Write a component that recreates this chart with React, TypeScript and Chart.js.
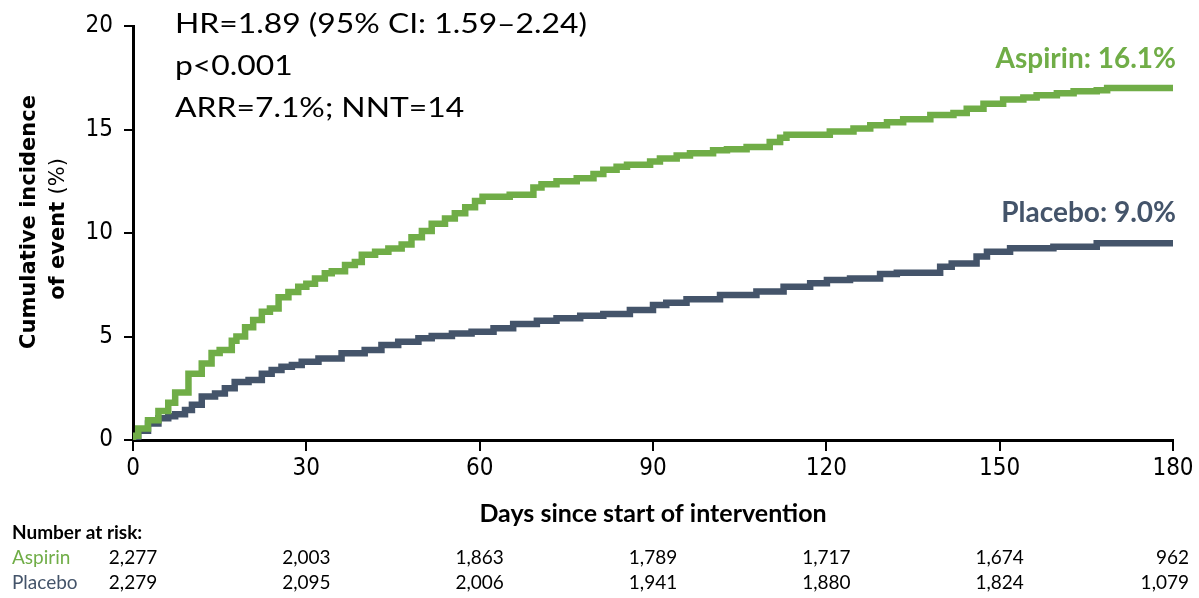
import { useEffect, useRef } from 'react';
import { Chart, registerables } from 'chart.js';

Chart.register(...registerables);

// Kaplan–Meier style cumulative incidence (%), step points: value reached at the given day
const aspirinDays = [0, 0.9, 2.6, 4.4, 6.1, 7.3, 9.6, 11.9, 13.6, 15.0, 17.1, 17.9, 19.4, 20.8, 22.3, 23.7, 25.2, 26.9, 28.6, 30.0, 31.5, 33.2, 34.4, 36.7, 38.4, 39.6, 41.9, 44.2, 46.5, 48.2, 50.0, 51.7, 54.0, 55.7, 57.5, 59.2, 60.5, 65.2, 69.3, 70.7, 73.3, 76.8, 79.7, 81.4, 83.7, 85.5, 89.5, 91.2, 94.1, 96.4, 100.4, 102.8, 106.2, 110.2, 112.0, 113.1, 120.6, 124.7, 127.6, 130.5, 133.3, 138.0, 142.0, 144.3, 147.2, 150.6, 154.1, 156.4, 159.9, 162.8, 166.8, 168.6, 172.6, 180];
const aspirinPct = [0, 0.2, 0.55, 0.95, 1.4, 1.8, 2.3, 3.2, 3.7, 4.2, 4.35, 4.8, 5.0, 5.45, 5.8, 6.2, 6.35, 6.9, 7.15, 7.4, 7.55, 7.8, 8.05, 8.15, 8.45, 8.6, 8.95, 9.1, 9.25, 9.45, 9.8, 10.1, 10.45, 10.7, 10.95, 11.25, 11.55, 11.75, 11.85, 12.2, 12.35, 12.5, 12.65, 12.85, 13.05, 13.2, 13.3, 13.45, 13.6, 13.75, 13.85, 14.0, 14.05, 14.15, 14.4, 14.6, 14.75, 14.9, 15.05, 15.2, 15.35, 15.5, 15.7, 15.8, 16.0, 16.25, 16.45, 16.55, 16.65, 16.75, 16.85, 16.9, 17.0, 17.0];

const placeboDays = [0, 0.9, 2.6, 4.4, 6.1, 7.3, 9.0, 10.2, 11.9, 14.2, 15.9, 17.6, 20.0, 22.3, 24.0, 25.7, 27.5, 29.2, 32.1, 36.1, 40.1, 43.0, 45.9, 49.4, 51.7, 55.2, 58.6, 62.4, 65.8, 69.9, 73.3, 77.4, 81.4, 86.0, 90.0, 92.3, 95.8, 101.6, 107.9, 112.6, 117.2, 120.1, 124.1, 129.3, 132.2, 139.7, 141.7, 146.0, 147.8, 151.8, 159.3, 166.8, 175.5, 180];
const placeboPct = [0, 0.1, 0.45, 0.8, 1.05, 1.15, 1.25, 1.45, 1.7, 2.1, 2.25, 2.5, 2.8, 2.9, 3.2, 3.38, 3.54, 3.62, 3.78, 3.94, 4.19, 4.35, 4.59, 4.75, 4.91, 5.02, 5.15, 5.23, 5.4, 5.6, 5.76, 5.88, 6.0, 6.09, 6.28, 6.52, 6.63, 6.8, 7.0, 7.17, 7.4, 7.57, 7.73, 7.8, 8.02, 8.08, 8.37, 8.53, 8.86, 9.1, 9.26, 9.34, 9.5, 9.5];

const xTickDays = [0, 30, 60, 90, 120, 150, 180];
const aspirinAtRisk = ['2,277', '2,003', '1,863', '1,789', '1,717', '1,674', '962'];
const placeboAtRisk = ['2,279', '2,095', '2,006', '1,941', '1,880', '1,824', '1,079'];

const statsLines = ['HR=1.89 (95% CI: 1.59–2.24)', 'p<0.001', 'ARR=7.1%; NNT=14'];
const aspirinLabel = 'Aspirin: 16.1%';
const placeboLabel = 'Placebo: 9.0%';

const GREEN = '#70AD47';
const SLATE = '#44546A';
const TEXT_FONT = 'Lato, "Noto Sans", sans-serif';
const YTITLE_FONT = '"DejaVu Sans", Verdana, sans-serif';
const TICK_FONT = '"Liberation Sans Narrow", "DejaVu Sans Condensed", Lato, sans-serif';

const toPoints = (xs: number[], ys: number[]) => xs.map((x, i) => ({ x, y: ys[i] }));

const annotationPlugin = {
  id: 'kmAnnotations',
  afterDraw(chart: any) {
    const { ctx } = chart;
    const xs = chart.scales.x;
    const area = chart.chartArea;
    ctx.save();
    ctx.textBaseline = 'alphabetic';

    // statistics block, top-left inside plot (slightly widened lettering)
    ctx.fillStyle = '#000';
    ctx.font = `26px ${TEXT_FONT}`;
    ctx.textAlign = 'left';
    const statsWidth = ctx.measureText(statsLines[0]).width;
    const stretch = 412 / statsWidth;
    ctx.save();
    ctx.translate(175, 0);
    ctx.scale(stretch, 1);
    statsLines.forEach((line, i) => {
      ctx.fillText(line, 0, 33 + i * 42);
    });
    ctx.restore();

    // series end labels
    ctx.textAlign = 'right';
    ctx.font = `bold 28px ${TEXT_FONT}`;
    ctx.fillStyle = GREEN;
    ctx.fillText(aspirinLabel, 1176, 68);
    ctx.fillStyle = SLATE;
    ctx.fillText(placeboLabel, 1176, 222);

    // y-axis title (two rotated lines)
    ctx.fillStyle = '#000';
    ctx.save();
    ctx.translate(35, 222);
    ctx.rotate(-Math.PI / 2);
    ctx.textAlign = 'center';
    ctx.font = `bold 21px ${YTITLE_FONT}`;
    ctx.fillText('Cumulative incidence', 0, 0);
    ctx.restore();

    ctx.save();
    ctx.translate(64, 229);
    ctx.rotate(-Math.PI / 2);
    ctx.textAlign = 'left';
    const boldPart = 'of event ';
    const plainPart = '(%)';
    ctx.font = `bold 21px ${YTITLE_FONT}`;
    const wBold = ctx.measureText(boldPart).width;
    ctx.font = `21px ${YTITLE_FONT}`;
    const wPlain = ctx.measureText(plainPart).width;
    const start = -(wBold + wPlain) / 2;
    ctx.font = `bold 21px ${YTITLE_FONT}`;
    ctx.fillText(boldPart, start, 0);
    ctx.font = `21px ${YTITLE_FONT}`;
    ctx.fillText(plainPart, start + wBold, 0);
    ctx.restore();

    // x-axis title
    ctx.textAlign = 'center';
    ctx.font = `bold 25px ${TEXT_FONT}`;
    ctx.fillText('Days since start of intervention', (area.left + area.right) / 2, 522);

    // number at risk table
    ctx.textAlign = 'left';
    ctx.font = `bold 19px ${TEXT_FONT}`;
    ctx.fillStyle = '#000';
    ctx.fillText('Number at risk:', 12, 539);
    ctx.font = `19px ${TEXT_FONT}`;
    ctx.fillStyle = GREEN;
    ctx.fillText('Aspirin', 12, 564);
    ctx.fillStyle = SLATE;
    ctx.fillText('Placebo', 12, 589);

    ctx.fillStyle = '#000';
    xTickDays.forEach((d, i) => {
      const last = i === xTickDays.length - 1;
      const px = last ? 1189 : xs.getPixelForValue(d);
      ctx.textAlign = last ? 'right' : 'center';
      ctx.fillText(aspirinAtRisk[i], px, 564);
      ctx.fillText(placeboAtRisk[i], px, 589);
    });
    ctx.restore();
  },
};

export default function App() {
  const canvasRef = useRef<HTMLCanvasElement | null>(null);

  useEffect(() => {
    if (!canvasRef.current) return;
    const chart = new Chart(canvasRef.current, {
      type: 'line',
      data: {
        datasets: [
          {
            label: 'Aspirin',
            data: toPoints(aspirinDays, aspirinPct),
            borderColor: GREEN,
            backgroundColor: GREEN,
            borderWidth: 6.5,
            stepped: 'after',
            pointRadius: 0,
            fill: false,
          },
          {
            label: 'Placebo',
            data: toPoints(placeboDays, placeboPct),
            borderColor: SLATE,
            backgroundColor: SLATE,
            borderWidth: 6.5,
            stepped: 'after',
            pointRadius: 0,
            fill: false,
          },
        ],
      },
      options: {
        responsive: false,
        animation: false,
        devicePixelRatio: 1,
        layout: { padding: { left: 73, right: 26, top: 26, bottom: 108 } },
        plugins: {
          legend: { display: false },
          tooltip: { enabled: false },
          title: { display: false },
        },
        scales: {
          x: {
            type: 'linear',
            min: 0,
            max: 180,
            afterFit: (s: any) => {
              s.height = 50;
            },
            afterBuildTicks: (s: any) => {
              s.ticks = xTickDays.map((v) => ({ value: v }));
            },
            grid: {
              display: true,
              drawOnChartArea: false,
              drawTicks: true,
              tickLength: 11,
              color: '#000',
              lineWidth: 2,
            },
            border: { display: true, color: '#000', width: 3 },
            ticks: {
              color: '#000',
              padding: 3,
              maxRotation: 0,
              font: { family: TICK_FONT, size: 24 },
            },
          },
          y: {
            type: 'linear',
            min: 0,
            max: 20,
            afterFit: (s: any) => {
              s.width = 60;
            },
            grid: {
              display: true,
              drawOnChartArea: false,
              drawTicks: true,
              tickLength: 9,
              color: '#000',
              lineWidth: 2,
            },
            border: { display: true, color: '#000', width: 3 },
            ticks: {
              stepSize: 5,
              color: '#000',
              padding: 11,
              font: { family: TICK_FONT, size: 24 },
            },
          },
        },
      },
      plugins: [annotationPlugin],
    });
    return () => chart.destroy();
  }, []);

  return (
    <div style={{ position: 'absolute', left: 0, top: 0, width: 1199, height: 598, background: '#fff' }}>
      <canvas ref={canvasRef} width={1199} height={598} style={{ display: 'block', width: 1199, height: 598 }} />
    </div>
  );
}
